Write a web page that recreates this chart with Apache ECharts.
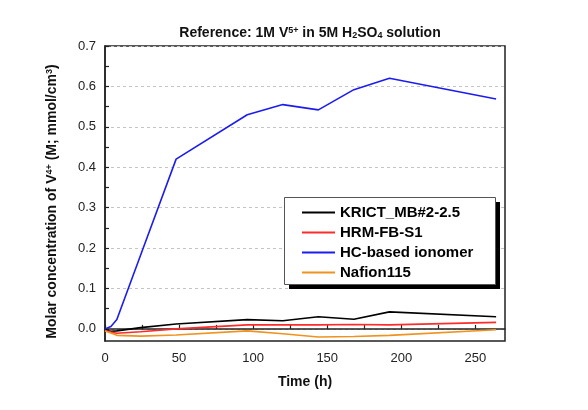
<!DOCTYPE html>
<html><head><meta charset="utf-8">
<script src="https://cdn.jsdelivr.net/npm/echarts@6/dist/echarts.min.js"></script>
<style>html,body{margin:0;padding:0;background:#fff}#c{width:588px;height:410px}</style>
</head><body><div id="c"></div>
<script>
var times = [0, 4, 8, 24, 48, 96, 120, 144, 168, 192, 264];
var krict = [-0.003, -0.006, -0.005, 0.003, 0.012, 0.023, 0.020, 0.030, 0.024, 0.042, 0.030];
var hrm = [-0.004, -0.008, -0.011, -0.007, 0.000, 0.010, 0.010, 0.010, 0.011, 0.010, 0.016];
var hc = [0.000, 0.006, 0.023, 0.182, 0.420, 0.530, 0.555, 0.542, 0.592, 0.620, 0.569];
var nafion = [-0.005, -0.010, -0.016, -0.018, -0.015, -0.005, -0.012, -0.020, -0.019, -0.016, -0.002];
var seriesNames = ['KRICT_MB#2-2.5', 'HRM-FB-S1', 'HC-based ionomer', 'Nafion115'];
var xTickLabels = [0, 50, 100, 150, 200, 250];
var xTicks = [0, 25, 50, 75, 100, 125, 150, 175, 200, 225, 250];
var yTickLabels = [0, 0.1, 0.2, 0.3, 0.4, 0.5, 0.6, 0.7];
var yTicks = [0, 0.05, 0.1, 0.15, 0.2, 0.25, 0.3, 0.35, 0.4, 0.45, 0.5, 0.55, 0.6, 0.65, 0.7];

function pairs(v){ return times.map(function(t,i){ return [t, v[i]]; }); }
var colors = ['#000000', '#ff2a2a', '#1c1cf0', '#f0921e'];
var vals = [krict, hrm, hc, nafion];
var FONT = 'Liberation Sans, Arial, sans-serif';

var chart = echarts.init(document.getElementById('c'), null, {renderer:'canvas'});
chart.setOption({
  animation: false,
  backgroundColor: '#fff',
  title: {
    text: 'Reference: 1M V{sup|5+} in 5M H{sub|2}SO{sub|4} solution',
    left: 305, top: 21, textAlign: 'center',
    textStyle: {
      fontFamily: FONT, fontWeight: 'bold', fontSize: 14, color: '#111',
      rich: {
        sup: {fontSize: 9, fontWeight: 'bold', verticalAlign: 'top', fontFamily: FONT, color:'#111'},
        sub: {fontSize: 9, fontWeight: 'bold', verticalAlign: 'bottom', fontFamily: FONT, color:'#111'}
      }
    }
  },
  graphic: [
    {type: 'rect', left: 289, top: 202, shape: {width: 211, height: 87}, style: {fill: '#000'}, z: 10},
    {type: 'rect', left: 284, top: 197, shape: {width: 211, height: 87}, style: {fill: '#fff', stroke: '#555', lineWidth: 1}, z: 11}
  ],
  grid: {left: 105, right: 83, top: 46, bottom: 69, show: true, borderColor: '#222', borderWidth: 1.5, backgroundColor: 'transparent'},
  legend: {
    orient: 'vertical', left: 302, top: 205, z: 20,
    padding: 0, itemGap: 5, itemWidth: 33, itemHeight: 2, icon: 'rect',
    data: seriesNames,
    textStyle: {fontFamily: FONT, fontWeight: 'bold', fontSize: 15, lineHeight: 14, color: '#000', padding: [0, 0, 0, 0]}
  },
  xAxis: {
    type: 'value', min: 0, max: 270,
    axisLine: {lineStyle: {color: '#222', width: 1.5}},
    axisTick: {inside: true, length: 4, customValues: xTicks, lineStyle: {color: '#222', width: 1.2}},
    axisLabel: {customValues: xTickLabels, fontFamily: FONT, fontSize: 13, color: '#222', margin: 11},
    splitLine: {show: false},
    name: 'Time (h)', nameLocation: 'middle', nameGap: 34,
    nameTextStyle: {fontFamily: FONT, fontWeight: 'bold', fontSize: 14, color: '#111'}
  },
  yAxis: [{
    type: 'value', min: -0.03, max: 0.7,
    axisLine: {show: true, lineStyle: {color: '#222', width: 1.5}},
    axisTick: {show: true, inside: true, length: 4, customValues: yTicks, lineStyle: {color: '#222', width: 1.2}},
    axisLabel: {customValues: yTickLabels, formatter: function(v){ return v.toFixed(1); }, fontFamily: FONT, fontSize: 13, color: '#222', margin: 9},
    splitLine: {show: false},
    name: 'Molar concentration of V{sup|4+} (M; mmol/cm{sup|3})', nameLocation: 'middle', nameGap: 46, nameRotate: 90,
    nameTextStyle: {
      fontFamily: FONT, fontWeight: 'bold', fontSize: 14, color: '#111', padding: [0, 16, 0, 0],
      rich: {
        sup: {fontSize: 9, fontWeight: 'bold', verticalAlign: 'top', fontFamily: FONT, color:'#111'}
      }
    }
  }, {
    type: 'value', min: -0.03, max: 0.7, position: 'left',
    axisLine: {show: false}, axisLabel: {show: false},
    axisTick: {show: false, customValues: yTickLabels},
    splitLine: {show: true, lineStyle: {color: '#c4c4c4', type: [3, 3], width: 1}}
  }],
  series: seriesNames.map(function(n, i){
    return {
      name: n, type: 'line', data: pairs(vals[i]), symbol: 'none', smooth: false,
      yAxisIndex: 0, z: 3 + (i === 2 ? 1 : 0),
      lineStyle: {color: colors[i], width: 1.6}, itemStyle: {color: colors[i]}
    };
  })
});
</script></body></html>
